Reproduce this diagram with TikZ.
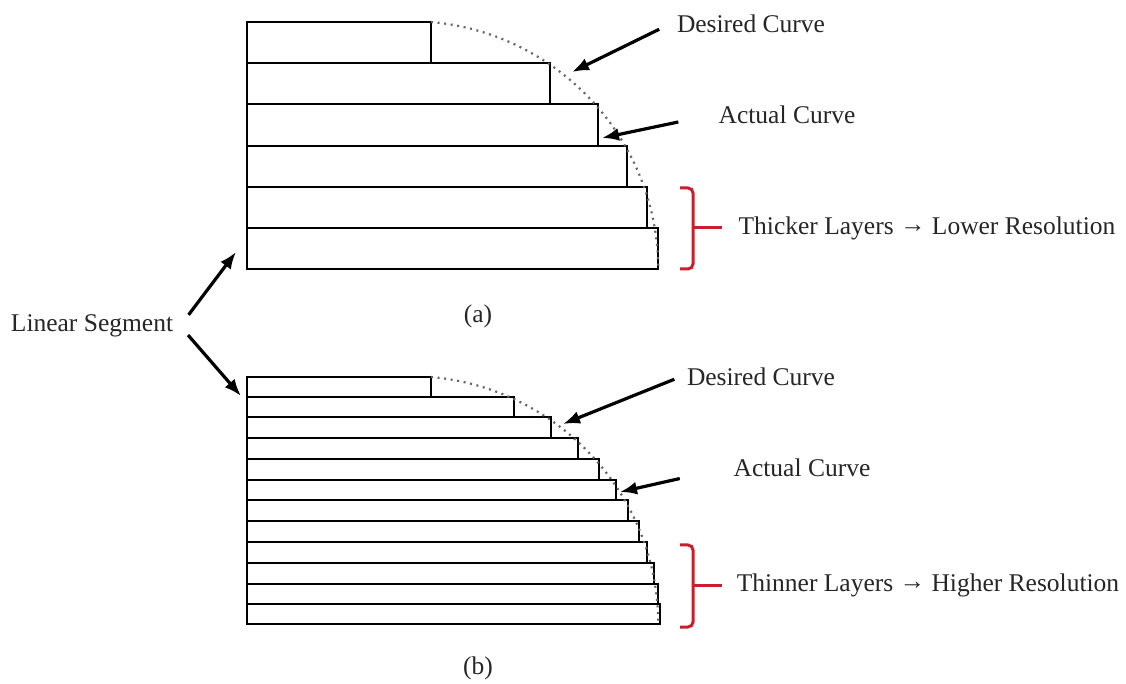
\documentclass[tikz,border=0pt]{standalone}
\usepackage{fontspec}
\setmainfont{Liberation Serif}
\usetikzlibrary{arrows.meta}
\definecolor{bracered}{RGB}{200,30,45}
\tikzset{
  lbl/.style={font=\fontsize{12.75}{15}\selectfont, text=black!85},
  ptr/.style={-{Latex[length=8.5pt,width=6.5pt]}, line width=1.6pt},
  layer/.style={line width=1.1pt},
  curve/.style={black!60, line width=1.1pt, dash pattern=on 1pt off 2.3pt},
  brace/.style={bracered, line width=1.5pt, rounded corners=2.5pt}
}
\newcommand{\toarrow}{\raisebox{0.8pt}{→}}

\begin{document}
\begin{tikzpicture}[x=0.5pt, y=-0.5pt]
\useasboundingbox (0,0) rectangle (1126,684);
% Thick layers (a)
\foreach \t/\b/\r in {22/63/431, 63/104/550, 104/146/598, 146/187/627, 187/228/647, 228/269/658}
  \draw [layer] (247,\t) rectangle (\r,\b);
% Thin layers (b)
\foreach \t/\b/\r in {377/397/431, 397/417/514, 417/438/551, 438/459/578, 459/480/599, 480/500/616,
                      500/521/628, 521/542/639, 542/563/647, 563/584/654, 584/604/658, 604/624/660}
  \draw [layer] (247,\t) rectangle (\r,\b);
% Desired curves
\draw [curve] (431,22) arc [start angle=-85, end angle=0, radius=249];
\draw [curve] (431,377) arc [start angle=-85, end angle=0, radius=249];
% Brackets
\draw [brace] (680,188) -- (693,188) -- (693,269) -- (680,269);
\draw [brace] (693,228) -- (722,228);
\draw [brace] (680,545) -- (693,545) -- (693,627) -- (680,627);
\draw [brace] (693,585) -- (722,585);
% Labels
\node [lbl] (descA) at (751,24) {Desired Curve};
\node [lbl] (actA) at (787,115) {Actual Curve};
\node [lbl] (resA) at (927,228) {Thicker Layers \toarrow{} Lower Resolution};
\node [lbl] (capA) at (478,316) {(a)};
\node [lbl] (lin) at (92,326) {Linear Segment};
\node [lbl] (descB) at (761,377) {Desired Curve};
\node [lbl] (actB) at (802,468) {Actual Curve};
\node [lbl] (resB) at (928,585) {Thinner Layers \toarrow{} Higher Resolution};
\node [lbl] (capB) at (478,668) {(b)};
% Arrows
\coordinate (tipDA) at (572,72);
\coordinate (tipAA) at (602,138);
\coordinate (tipLA) at (236,252);
\coordinate (tipLB) at (241,396);
\coordinate (tipDB) at (563,424);
\coordinate (tipAB) at (620,492);
\draw [ptr, shorten <=6pt] (descA.west) -- (tipDA);
\draw [ptr, shorten <=17pt] (actA.west) -- (tipAA);
\draw [ptr, shorten <=7pt] (lin.east) -- (tipLA);
\draw [ptr, shorten <=6pt] (lin.east) -- (tipLB);
\draw [ptr, shorten <=3pt] (descB.west) -- (tipDB);
\draw [ptr, shorten <=24pt] (actB.west) -- (tipAB);
\end{tikzpicture}
\end{document}
